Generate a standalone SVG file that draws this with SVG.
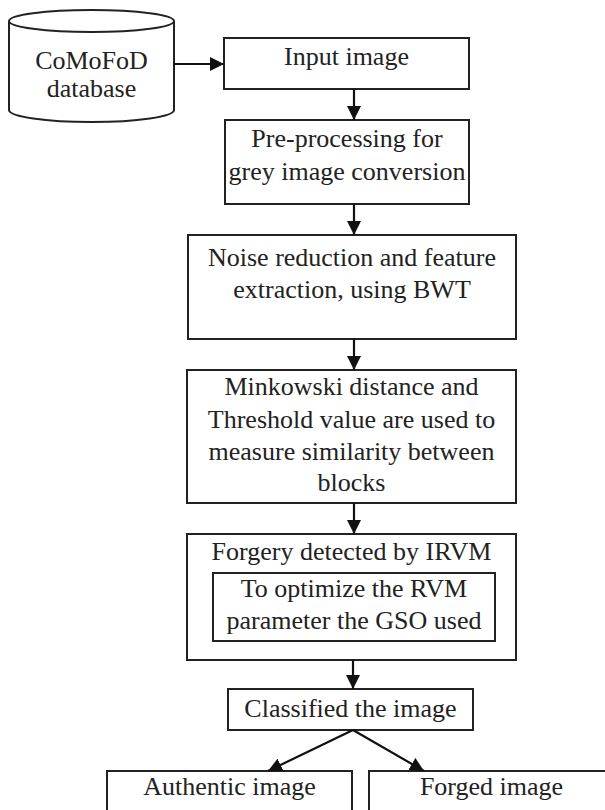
<svg xmlns="http://www.w3.org/2000/svg" width="605" height="810" viewBox="0 0 605 810">
<defs>
<style>
.box{fill:#fff;stroke:#222;stroke-width:2}
.t{font-family:"Liberation Serif","Times New Roman",serif;font-size:26px;fill:#222;text-anchor:middle}
.c{fill:none;stroke:#111;stroke-width:2.2}
</style>
<marker id="ah" viewBox="0 0 14 14" refX="14" refY="7" markerWidth="14" markerHeight="14" markerUnits="userSpaceOnUse" orient="auto">
<path d="M0,0 L14,7 L0,14 z" fill="#111"/>
</marker>
</defs>
<rect width="605" height="810" fill="#fff"/>
<g id="db">
<path class="box" d="M9,21 V110 A82.5,12 0 0 0 174,110 V21"/>
<ellipse class="box" cx="91.5" cy="21" rx="82.5" ry="11"/>
<text class="t" x="91.5" y="69">CoMoFoD</text>
<text class="t" x="91.5" y="97">database</text>
</g>
<g id="input">
<rect class="box" x="224" y="38" width="245" height="51"/>
<text class="t" x="346.5" y="65">Input image</text>
</g>
<g id="pre">
<rect class="box" x="225" y="120" width="244" height="84"/>
<text class="t" x="347" y="147">Pre-processing for</text>
<text class="t" x="347" y="180">grey image conversion</text>
</g>
<g id="noise">
<rect class="box" x="188" y="235" width="328" height="104"/>
<text class="t" x="352" y="266">Noise reduction and feature</text>
<text class="t" x="352" y="298">extraction, using BWT</text>
</g>
<g id="mink">
<rect class="box" x="187" y="370" width="329" height="133"/>
<text class="t" x="351.5" y="395">Minkowski distance and</text>
<text class="t" x="351.5" y="428">Threshold value are used to</text>
<text class="t" x="351.5" y="460">measure similarity between</text>
<text class="t" x="351.5" y="491">blocks</text>
</g>
<g id="forgery">
<rect class="box" x="187" y="534" width="329" height="126"/>
<text class="t" x="351.5" y="560">Forgery detected by IRVM</text>
<rect class="box" x="213" y="573" width="282" height="68"/>
<text class="t" x="354" y="597">To optimize the RVM</text>
<text class="t" x="354" y="629">parameter the GSO used</text>
</g>
<g id="classified">
<rect class="box" x="228" y="689" width="245" height="41"/>
<text class="t" x="350.5" y="717">Classified the image</text>
</g>
<g id="authentic">
<rect class="box" x="107" y="771" width="245" height="60"/>
<text class="t" x="229.5" y="795">Authentic image</text>
</g>
<g id="forged">
<rect class="box" x="369" y="771" width="245" height="60"/>
<text class="t" x="491.5" y="795">Forged image</text>
</g>
<g id="connectors">
<path class="c" d="M174,64 H224" marker-end="url(#ah)"/>
<path class="c" d="M354,89 V120" marker-end="url(#ah)"/>
<path class="c" d="M354,204 V235" marker-end="url(#ah)"/>
<path class="c" d="M354,339 V370" marker-end="url(#ah)"/>
<path class="c" d="M354,503 V534" marker-end="url(#ah)"/>
<path class="c" d="M353,660 V689" marker-end="url(#ah)"/>
<path class="c" d="M353,730 L268,771" marker-end="url(#ah)"/>
<path class="c" d="M353,730 L424,771" marker-end="url(#ah)"/>
</g>
</svg>
